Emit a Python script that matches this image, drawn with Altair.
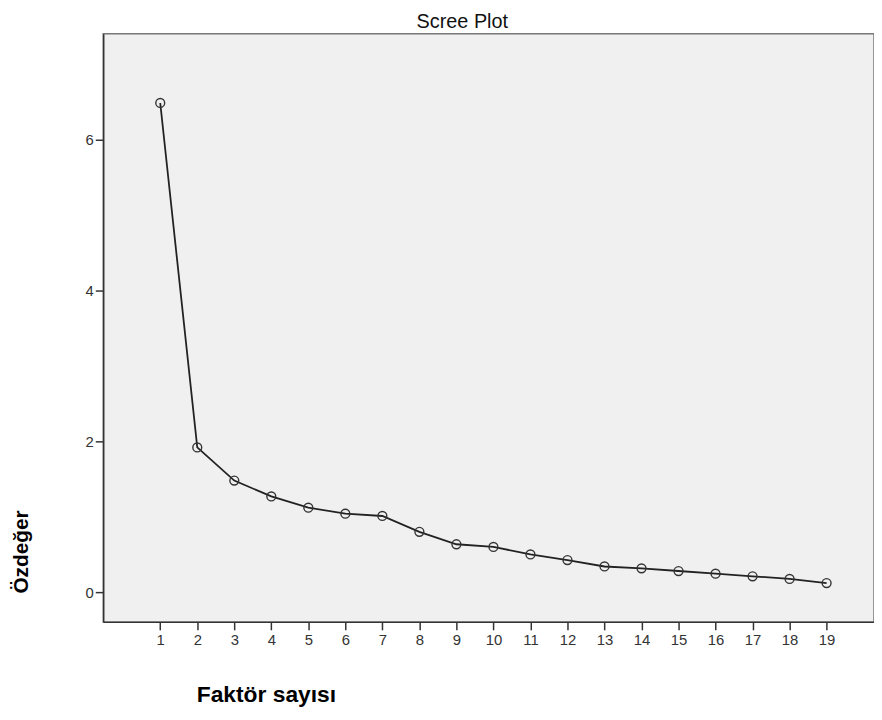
import altair as alt
import pandas as pd

factors = list(range(1, 20))
eigenvalues = [6.49, 1.92, 1.48, 1.27, 1.12, 1.04, 1.01, 0.80, 0.635, 0.60,
               0.50, 0.425, 0.34, 0.315, 0.28, 0.245, 0.21, 0.175, 0.12]
x_ticks = list(range(1, 20))
y_ticks = [0, 2, 4, 6]
chart_title = ["Scree Plot"]

df = pd.DataFrame({"Faktör": factors, "Özdeğer": eigenvalues})

FONT = "Liberation Sans"

x_enc = alt.X(
    "Faktör:Q",
    scale=alt.Scale(domain=[-0.54, 20.28], nice=False, zero=False),
    axis=alt.Axis(
        values=x_ticks, format="d", grid=False, labelAngle=0,
        tickSize=8, tickWidth=1.5, tickColor="#333",
        domainColor="#333", domainWidth=1.5,
        labelFont=FONT, labelFontSize=15, labelColor="#333", labelPadding=3,
        title="Faktör sayısı", titleFont=FONT, titleFontSize=23,
        titleFontWeight="bold", titleColor="black",
        titleX=164, titleY=73, titleAlign="center", titleBaseline="middle",
    ),
)
y_enc = alt.Y(
    "Özdeğer:Q",
    scale=alt.Scale(domain=[-0.395, 7.41], nice=False, zero=False),
    axis=alt.Axis(
        values=y_ticks, format="d", grid=False,
        tickSize=8, tickWidth=1.5, tickColor="#333",
        domainColor="#333", domainWidth=1.5,
        labelFont=FONT, labelFontSize=15, labelColor="#333", labelPadding=2,
        title="Özdeğer", titleFont=FONT, titleFontSize=21,
        titleFontWeight="bold", titleColor="black", titleAngle=-90,
        titleX=-82, titleY=522, titleAlign="center", titleBaseline="middle",
    ),
)

base = alt.Chart(df).encode(x=x_enc, y=y_enc)
line = base.mark_line(color="#222", strokeWidth=1.8)
points = base.mark_point(shape="circle", filled=False, size=80,
                         color="#333", strokeWidth=1.4, opacity=1)

title_text = (
    alt.Chart(pd.DataFrame({"t": chart_title}))
    .mark_text(font=FONT, fontSize=20, color="#111", align="center",
               baseline="middle")
    .encode(text="t:N", x=alt.value(362), y=alt.value(-12))
)

chart = (
    alt.layer(line, points, title_text)
    .properties(
        width=777, height=593,
        autosize=alt.AutoSizeParams(type="none"),
        padding={"left": 96, "top": 23, "right": 0, "bottom": 88},
        background="white",
    )
    .configure_view(fill="#f0f0f0", stroke="#777", strokeWidth=1.5)
)

chart.save("out.html", embed_options={"renderer": "svg", "actions": False})
